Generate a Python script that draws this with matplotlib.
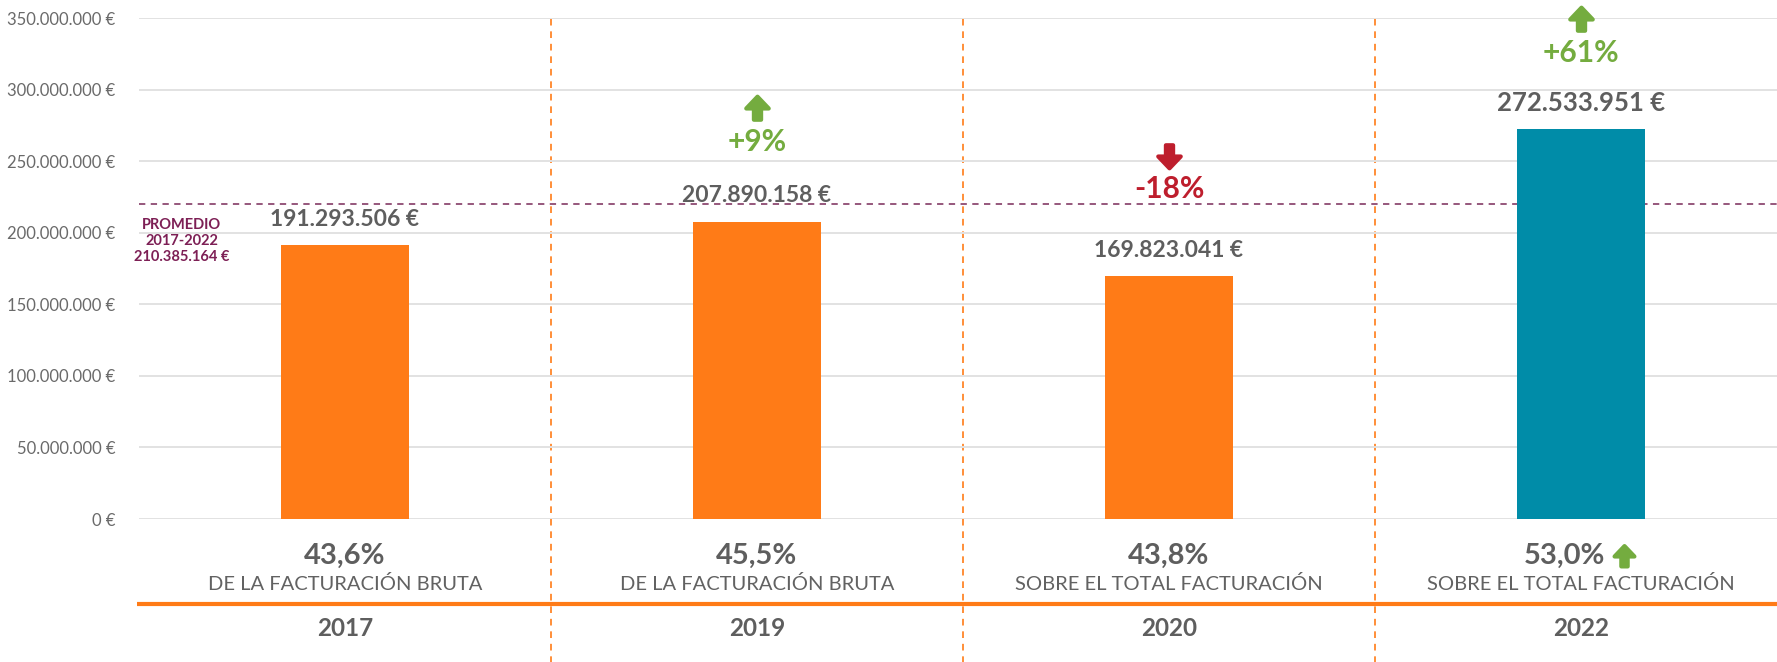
import matplotlib
matplotlib.use("Agg")
import matplotlib.pyplot as plt
from matplotlib.path import Path
from matplotlib.transforms import blended_transform_factory, ScaledTranslation
from matplotlib.ticker import FuncFormatter

# data
years = ['2017', '2019', '2020', '2022']
values = [191293506, 207890158, 169823041, 272533951]
share_pct = ['43,6%', '45,5%', '43,8%', '53,0%']
share_desc = ['DE LA FACTURACIÓN BRUTA', 'DE LA FACTURACIÓN BRUTA',
              'SOBRE EL TOTAL FACTURACIÓN', 'SOBRE EL TOTAL FACTURACIÓN']
changes = ['', '+9%', '-18%', '+61%']
change_up = [None, True, False, True]
promedio_label = 'PROMEDIO\n2017-2022\n210.385.164 €'
promedio_line = 220000000  # where the dashed line sits in the original
yticks = [0, 50e6, 100e6, 150e6, 200e6, 250e6, 300e6, 350e6]

# style
ORANGE = '#FF7B17'
TEAL = '#008CA8'
GREEN = '#74AC3F'
RED = '#BE1E2D'
GREY = '#5E5E5E'
PURPLE = '#7D1F55'
bar_colors = [ORANGE, ORANGE, ORANGE, TEAL]
change_colors = [None, GREEN, RED, GREEN]
value_sizes = [16.5, 16.5, 16.5, 18.5]
change_off_px = [0, 80, 87, 76]  # text offset above bar top
arrow_off_px = [0, 114, 120, 110]

plt.rcParams['font.family'] = ['Lato', 'DejaVu Sans']

W, H = 1777, 662
fig = plt.figure(figsize=(W / 100, H / 100), dpi=100)
ax_l, ax_r, ax_t, ax_b = 139, 1787, 18.3, 519
ax = fig.add_axes([ax_l / W, 1 - ax_b / H, (ax_r - ax_l) / W, (ax_b - ax_t) / H])

x = list(range(len(years)))
ax.bar(x, values, width=0.313, color=bar_colors, zorder=3)
ax.set_xlim(-0.5, 3.5)
ax.set_ylim(0, 350e6)
ax.set_yticks(yticks)
ax.yaxis.set_major_formatter(FuncFormatter(lambda v, p: f'{int(v):,}'.replace(',', '.') + ' €'))
ax.tick_params(axis='y', length=0, pad=17, labelsize=12, labelcolor='#6A6A6A')
ax.set_xticks([])
ax.grid(axis='y', color='#E2E2E2', lw=1.4, zorder=0)
for s in ax.spines.values():
    s.set_visible(False)

# average line + label
ax.axhline(promedio_line, color='#8E4A72', lw=1.3, ls=(0, (3.5, 3)), zorder=2)
ax.text(-0.396, 194.4e6, promedio_label, ha='center', va='center', color=PURPLE,
        fontsize=10.5, fontweight='bold', linespacing=1.2)

# separators
for sx in [0.5, 1.5, 2.5]:
    ax.axvline(sx, ymin=-0.29, ymax=1.011, color=ORANGE, lw=1.2,
               ls=(0, (4, 3.5)), clip_on=False, zorder=1)

# value labels and change labels
def px(p):
    return p * 72 / 100

arrow_up = Path([(-1, 0), (0, 1.05), (1, 0), (0.32, 0), (0.32, -1), (-0.32, -1), (-0.32, 0), (-1, 0)],
                [Path.MOVETO] + [Path.LINETO] * 6 + [Path.CLOSEPOLY])
arrow_down = Path([(vx, -vy) for vx, vy in arrow_up.vertices], arrow_up.codes)

for i, v in enumerate(values):
    lab = f'{v:,}'.replace(',', '.') + ' €'
    ax.annotate(lab, (i, v), xytext=(0, px(26)), textcoords='offset points',
                ha='center', va='center', fontsize=value_sizes[i], fontweight='bold', color=GREY)
    if changes[i]:
        c = change_colors[i]
        ax.annotate(changes[i], (i, v), xytext=(0, px(change_off_px[i])),
                    textcoords='offset points', ha='center', va='center',
                    fontsize=21.5, fontweight='bold', color=c)
        tr = ax.transData + ScaledTranslation(0, arrow_off_px[i] / 100, fig.dpi_scale_trans)
        ax.plot([i], [v], marker=arrow_up if change_up[i] else arrow_down, ms=17,
                color=c, mec=c, mew=3, solid_joinstyle='round', transform=tr, clip_on=False)

# bottom labels
tb = blended_transform_factory(ax.transData, fig.transFigure)
for i in x:
    if i == 3:
        ax.text(i - 0.041, 1 - 556 / H, share_pct[i], transform=tb, ha='center', va='center',
                fontsize=21, fontweight='bold', color=GREY)
        tr = tb + ScaledTranslation(43 / 100, 0, fig.dpi_scale_trans)
        ax.plot([i], [1 - 556 / H], marker=arrow_up, ms=15, color=GREEN, mec=GREEN, mew=3,
                solid_joinstyle='round', transform=tr, clip_on=False)
    else:
        ax.text(i, 1 - 556 / H, share_pct[i], transform=tb, ha='center', va='center',
                fontsize=21, fontweight='bold', color=GREY)
    ax.text(i, 1 - 584 / H, share_desc[i], transform=tb, ha='center', va='center',
            fontsize=14.5, color='#626262')
    ax.text(i, 1 - 628 / H, years[i], transform=tb, ha='center', va='center',
            fontsize=17.5, fontweight='bold', color=GREY)

tl = blended_transform_factory(ax.transAxes, fig.transFigure)
ax.plot([-0.001, 1], [1 - 604 / H] * 2, color=ORANGE, lw=3, transform=tl, clip_on=False,
        solid_capstyle='butt')

fig.savefig('out.png', dpi=100)
